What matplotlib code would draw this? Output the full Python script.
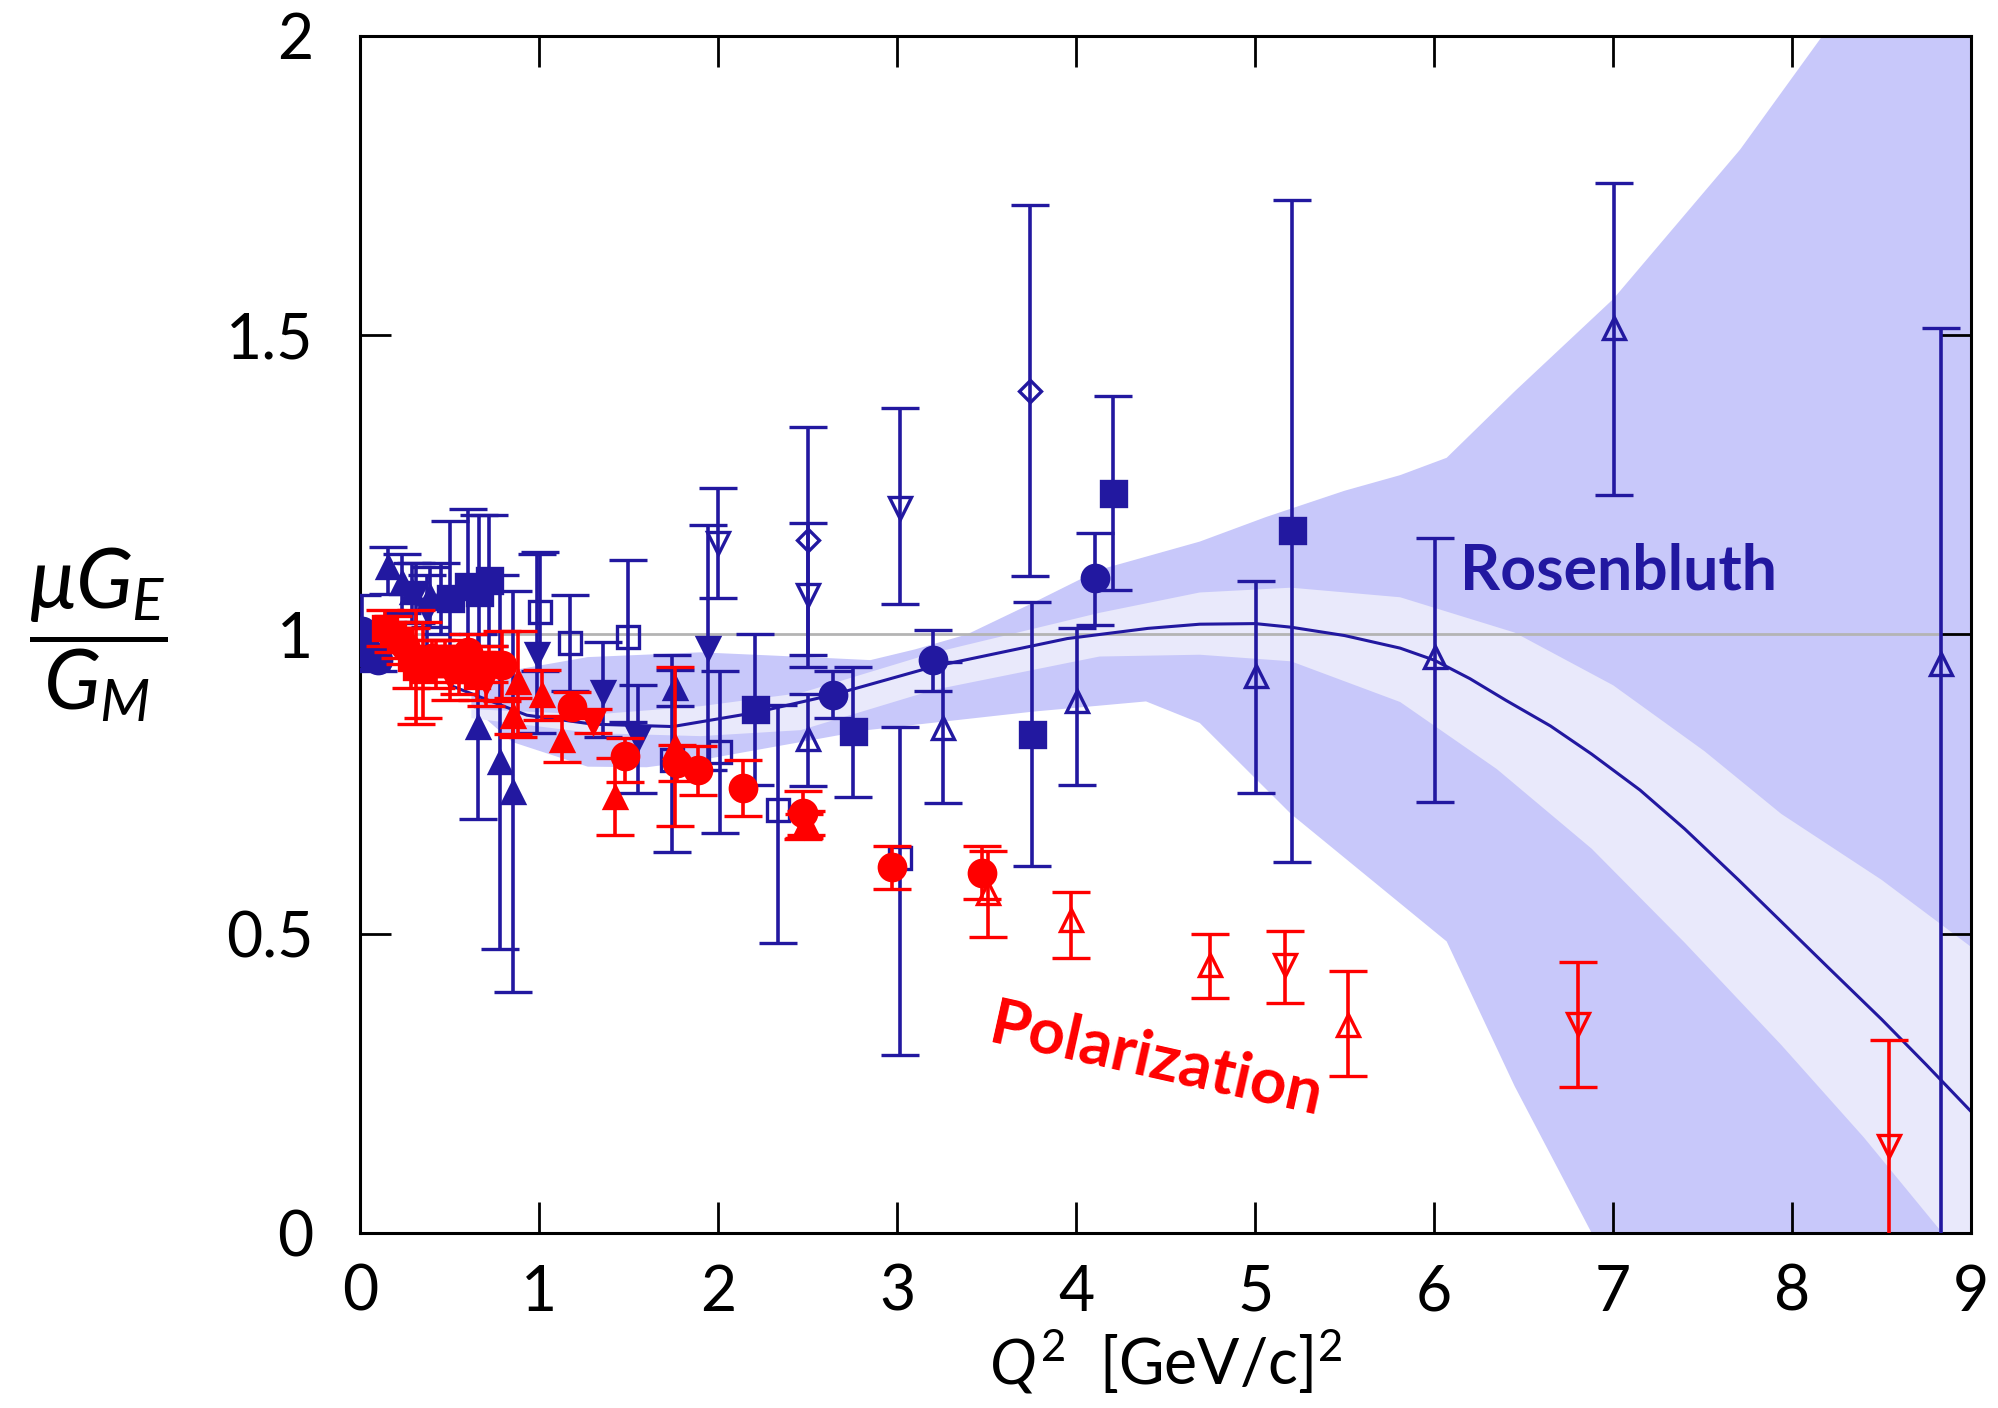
import numpy as np
import matplotlib
matplotlib.use("Agg")
import matplotlib.pyplot as plt

NAVY = "#2218a0"
RED = "#ff0000"
BAND_OUT = "#c8c8fa"
BAND_IN = "#e9e9fb"

# global fit curve
fit_q2 = [0.5, 0.93, 1.3, 1.745, 2.2, 2.64, 3.2, 3.95, 4.4, 4.69, 5.0, 5.2, 5.5, 5.81, 6.0, 6.2, 6.4, 6.65, 6.88, 7.15, 7.4, 7.7, 7.94, 8.2, 8.5, 8.75, 9.0]
fit_ratio = [0.915, 0.865, 0.85, 0.846, 0.869, 0.899, 0.946, 0.993, 1.01, 1.017, 1.018, 1.012, 0.998, 0.977, 0.957, 0.926, 0.89, 0.847, 0.800, 0.740, 0.675, 0.59, 0.52, 0.444, 0.357, 0.281, 0.203]

# outer (dark) uncertainty band edges
outer_hi_q2 = [0.62, 0.85, 1.27, 1.9, 2.5, 2.85, 3.1, 3.39, 3.76, 4.13, 4.69, 5.06, 5.5, 5.81, 6.07, 6.45, 7.0, 7.71, 8.17, 9.0]
outer_hi = [0.90, 0.94, 0.962, 0.97, 0.962, 0.957, 0.975, 1.0, 1.053, 1.108, 1.155, 1.196, 1.24, 1.266, 1.295, 1.406, 1.56, 1.81, 2.0, 2.4]
outer_lo_q2 = [0.62, 0.85, 1.27, 1.6, 1.9, 2.83, 3.76, 4.39, 4.69, 5.2, 6.07, 6.45, 6.88, 7.5, 9.0]
outer_lo = [0.88, 0.82, 0.779, 0.778, 0.79, 0.84, 0.871, 0.888, 0.852, 0.70, 0.487, 0.245, 0.0, -0.5, -1.5]

# inner (light) band edges
inner_hi_q2 = [0.62, 1.3, 1.9, 2.46, 3.2, 4.13, 4.69, 5.2, 5.81, 6.45, 7.0, 7.51, 7.94, 8.5, 9.0]
inner_hi = [0.875, 0.866, 0.88, 0.902, 0.969, 1.036, 1.07, 1.078, 1.062, 1.003, 0.915, 0.805, 0.70, 0.59, 0.478]
inner_lo_q2 = [0.62, 1.3, 1.9, 2.46, 3.2, 4.13, 4.69, 5.2, 5.81, 6.35, 6.88, 7.4, 7.94, 8.4, 8.84, 9.0]
inner_lo = [0.86, 0.835, 0.83, 0.84, 0.907, 0.963, 0.966, 0.955, 0.887, 0.775, 0.642, 0.485, 0.314, 0.16, 0.0, -0.06]

# Rosenbluth data (x, y, lower err, upper err)
ros_circ_x = [0.01, 0.03, 0.06, 0.10, 2.643, 3.201, 4.105]
ros_circ_y = [1.005, 0.975, 0.962, 0.958, 0.899, 0.958, 1.094]
ros_circ_lo = [0.03, 0.02, 0.02, 0.02, 0.039, 0.052, 0.078]
ros_circ_hi = [0.06, 0.02, 0.02, 0.02, 0.039, 0.049, 0.076]

ros_sq_x = [0.50, 0.60, 0.66, 0.72, 2.205, 2.754, 3.755, 4.204, 5.204]
ros_sq_y = [1.06, 1.08, 1.07, 1.09, 0.875, 0.838, 0.833, 1.237, 1.174]
ros_sq_lo = [0.12, 0.12, 0.12, 0.11, 0.127, 0.11, 0.22, 0.163, 0.554]
ros_sq_hi = [0.13, 0.13, 0.13, 0.11, 0.125, 0.108, 0.221, 0.162, 0.552]

ros_osq_x = [1.003, 1.171, 1.497, 1.74, 2.01, 2.331, 3.015]
ros_osq_y = [1.038, 0.985, 0.996, 0.79, 0.803, 0.707, 0.626]
ros_osq_lo = [0.10, 0.08, 0.142, 0.153, 0.135, 0.222, 0.328]
ros_osq_hi = [0.10, 0.08, 0.129, 0.176, 0.135, 0.175, 0.22]

ros_up_x = [0.155, 0.23, 0.29, 0.39, 0.45, 0.658, 0.78, 0.854, 1.757]
ros_up_y = [1.113, 1.085, 1.07, 1.063, 1.06, 0.846, 0.787, 0.737, 0.91]
ros_up_lo = [0.045, 0.05, 0.05, 0.05, 0.06, 0.155, 0.313, 0.335, 0.03]
ros_up_hi = [0.033, 0.05, 0.05, 0.05, 0.06, 0.155, 0.313, 0.335, 0.03]

ros_dn_x = [0.31, 0.37, 0.985, 1.357, 1.553, 1.944]
ros_dn_y = [1.069, 1.04, 0.968, 0.904, 0.827, 0.978]
ros_dn_lo = [0.05, 0.06, 0.133, 0.075, 0.092, 0.204]
ros_dn_hi = [0.05, 0.06, 0.167, 0.084, 0.088, 0.205]

ros_oup_x = [2.503, 3.254, 4.003, 5.005, 6.005, 7.004, 8.834]
ros_oup_y = [0.826, 0.843, 0.888, 0.931, 0.963, 1.511, 0.951]
ros_oup_lo = [0.08, 0.125, 0.139, 0.196, 0.243, 0.278, 1.0]
ros_oup_hi = [0.075, 0.111, 0.122, 0.158, 0.198, 0.243, 0.56]

ros_odn_x = [2.0, 2.503, 3.017]
ros_odn_y = [1.152, 1.066, 1.211]
ros_odn_lo = [0.091, 0.12, 0.16]
ros_odn_hi = [0.093, 0.12, 0.167]

ros_dia_x = [2.503, 3.742]
ros_dia_y = [1.157, 1.407]
ros_dia_lo = [0.192, 0.309]
ros_dia_hi = [0.19, 0.311]

# Polarization transfer data
pol_circ_x = [0.25, 0.40, 0.52, 0.60, 0.789, 1.18, 1.478, 1.767, 1.887, 2.136, 2.475, 2.968, 3.471]
pol_circ_y = [0.98, 0.96, 0.95, 0.97, 0.949, 0.879, 0.796, 0.785, 0.774, 0.743, 0.701, 0.611, 0.602]
pol_circ_lo = [0.03, 0.03, 0.03, 0.03, 0.06, 0.019, 0.042, 0.03, 0.042, 0.046, 0.043, 0.036, 0.044]
pol_circ_hi = [0.03, 0.03, 0.03, 0.03, 0.056, 0.024, 0.031, 0.03, 0.04, 0.047, 0.038, 0.036, 0.045]

pol_sq_x = [0.14, 0.18, 0.22, 0.28, 0.31, 0.35, 0.42, 0.47, 0.55, 0.65, 0.72]
pol_sq_y = [1.01, 1.00, 0.99, 0.96, 0.945, 0.94, 0.95, 0.96, 0.94, 0.93, 0.95]
pol_sq_err = [0.03, 0.03, 0.03, 0.05, 0.095, 0.08, 0.04, 0.03, 0.04, 0.04, 0.03]

pol_up_x = [0.854, 0.882, 1.013, 1.124, 1.42, 1.757, 2.49]
pol_up_y = [0.863, 0.921, 0.899, 0.824, 0.729, 0.8125, 0.685]
pol_up_lo = [0.03, 0.092, 0.042, 0.037, 0.064, 0.133, 0.02]
pol_up_hi = [0.03, 0.084, 0.042, 0.04, 0.064, 0.133, 0.02]

pol_dn_x = [0.50, 0.70, 1.30]
pol_dn_y = [0.93, 0.92, 0.854]
pol_dn_lo = [0.04, 0.04, 0.019]
pol_dn_hi = [0.04, 0.04, 0.021]

pol_oup_x = [3.509, 3.973, 4.748, 5.52]
pol_oup_y = [0.568, 0.523, 0.448, 0.348]
pol_oup_lo = [0.073, 0.063, 0.056, 0.085]
pol_oup_hi = [0.07, 0.047, 0.052, 0.089]

pol_odn_x = [2.48, 5.167, 6.802, 8.54]
pol_odn_y = [0.68, 0.448, 0.349, 0.145]
pol_odn_lo = [0.02, 0.064, 0.105, 0.2]
pol_odn_hi = [0.02, 0.056, 0.103, 0.178]

x_ticks = [0, 1, 2, 3, 4, 5, 6, 7, 8, 9]
y_ticks = [0, 0.5, 1, 1.5, 2]
y_tick_labels = ["0", "0.5", "1", "1.5", "2"]

plt.rcParams["font.family"] = ["Lato", "DejaVu Sans"]
plt.rcParams["mathtext.fontset"] = "custom"
plt.rcParams["mathtext.rm"] = "Lato"
plt.rcParams["mathtext.it"] = "Lato:italic"
plt.rcParams["mathtext.bf"] = "Lato:bold"
plt.rcParams["mathtext.fallback"] = "stixsans"

fig = plt.figure(figsize=(19.98, 14.08), dpi=100)
ax = fig.add_axes([0.1804, 0.1243, 0.8061, 0.8503])

# bands
ax.fill(np.concatenate([outer_hi_q2, outer_lo_q2[::-1]]),
        np.concatenate([outer_hi, outer_lo[::-1]]),
        color=BAND_OUT, lw=0, zorder=1)
ax.fill(np.concatenate([inner_hi_q2, inner_lo_q2[::-1]]),
        np.concatenate([inner_hi, inner_lo[::-1]]),
        color=BAND_IN, lw=0, zorder=1.1)
ax.axhline(1.0, color="#b4b4b4", lw=2.0, zorder=1.5)
ax.plot(fit_q2, fit_ratio, color=NAVY, lw=2.2, zorder=2)


def draw(x, y, lo, hi, marker, color, filled, ms, z):
    ax.errorbar(x, y, yerr=[lo, hi], fmt=marker, color=color, ms=ms,
                mfc=color if filled else "none", mec=color, mew=2.4,
                elinewidth=2.6, capsize=14, capthick=2.6, zorder=z)


# Rosenbluth (navy)
draw(ros_circ_x, ros_circ_y, ros_circ_lo, ros_circ_hi, "o", NAVY, True, 19, 3)
draw(ros_sq_x, ros_sq_y, ros_sq_lo, ros_sq_hi, "s", NAVY, True, 18, 3)
draw(ros_osq_x, ros_osq_y, ros_osq_lo, ros_osq_hi, "s", NAVY, False, 16, 3)
draw(ros_up_x, ros_up_y, ros_up_lo, ros_up_hi, "^", NAVY, True, 16, 3)
draw(ros_dn_x, ros_dn_y, ros_dn_lo, ros_dn_hi, "v", NAVY, True, 16, 3)
draw(ros_oup_x, ros_oup_y, ros_oup_lo, ros_oup_hi, "^", NAVY, False, 16, 3)
draw(ros_odn_x, ros_odn_y, ros_odn_lo, ros_odn_hi, "v", NAVY, False, 16, 3)
draw(ros_dia_x, ros_dia_y, ros_dia_lo, ros_dia_hi, "D", NAVY, False, 11, 3)

# Polarization (red)
draw(pol_sq_x, pol_sq_y, pol_sq_err, pol_sq_err, "s", RED, True, 17, 4)
draw(pol_circ_x, pol_circ_y, pol_circ_lo, pol_circ_hi, "o", RED, True, 19, 4)
draw(pol_up_x, pol_up_y, pol_up_lo, pol_up_hi, "^", RED, True, 16, 4)
draw(pol_dn_x, pol_dn_y, pol_dn_lo, pol_dn_hi, "v", RED, True, 16, 4)
draw(pol_oup_x, pol_oup_y, pol_oup_lo, pol_oup_hi, "^", RED, False, 16, 4)
draw(pol_odn_x, pol_odn_y, pol_odn_lo, pol_odn_hi, "v", RED, False, 16, 4)

ax.text(7.03, 1.105, "Rosenbluth", color=NAVY, fontsize=45, fontweight="bold",
        ha="center", va="center", zorder=5)
ax.text(4.45, 0.288, "Polarization", color=RED, fontsize=46, fontweight="bold",
        ha="center", va="center", rotation=-12.6, rotation_mode="anchor", zorder=5)

ax.set_xlim(0, 9)
ax.set_ylim(0, 2)
ax.set_xticks(x_ticks)
ax.set_yticks(y_ticks)
ax.set_yticklabels(y_tick_labels)
ax.tick_params(axis="both", direction="in", top=True, right=True,
               length=22, width=2.0, labelsize=45)
ax.tick_params(axis="x", pad=22)
ax.tick_params(axis="y", pad=34)
for s in ax.spines.values():
    s.set_linewidth(2.2)

ax.set_xlabel(r"$Q^2$  [GeV/c]$^2$", fontsize=45, va="center")
ax.xaxis.set_label_coords(0.5, -0.108)
ax.set_ylabel(r"$\dfrac{\mu G_E}{G_M}$", fontsize=60, rotation=0, va="center", ha="center")
ax.yaxis.set_label_coords(-0.163, 0.5)

fig.savefig("out.png", dpi=100)
